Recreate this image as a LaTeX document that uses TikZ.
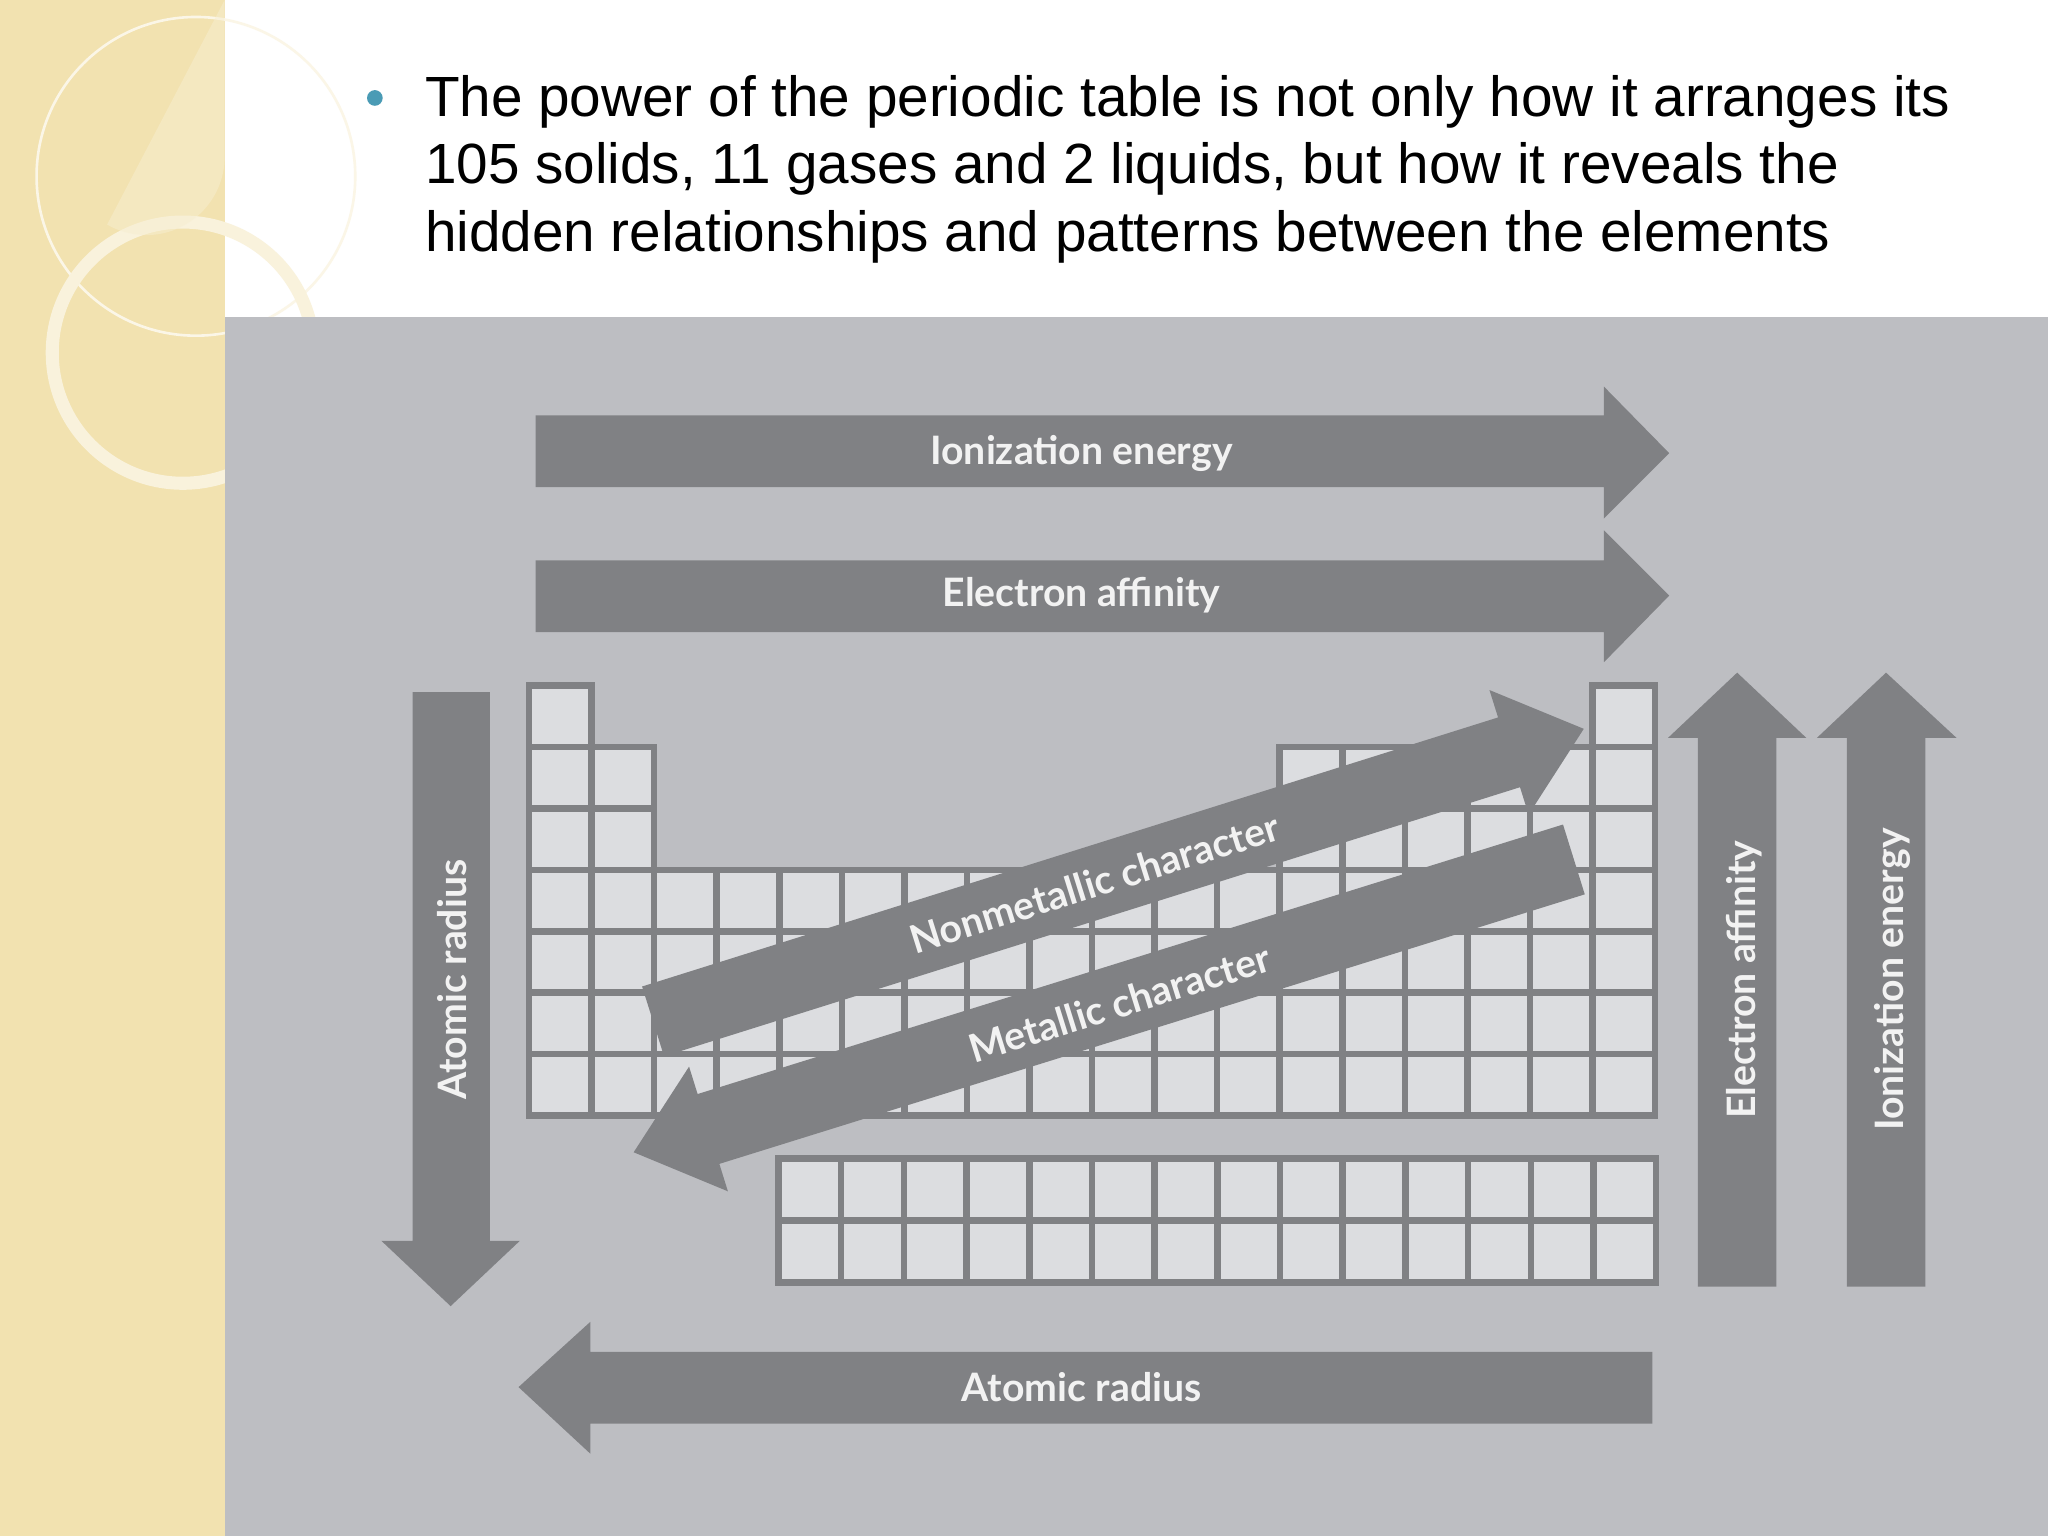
\documentclass[tikz,border=0pt]{standalone}
\usepackage{fontspec}
\setmainfont{Liberation Sans}
\newfontfamily\lab{Lato}
\definecolor{beige}{HTML}{F2E2B0}
\definecolor{bg}{HTML}{BDBEC2}
\definecolor{arr}{HTML}{808184}
\definecolor{cell}{HTML}{DCDDE0}
\definecolor{bul}{HTML}{4A9BB5}
\tikzset{x=0.5pt,y=-0.5pt,
 ar/.style={fill=arr,draw=none},
 al/.style={text=white!95!black,font=\lab\bfseries\fontsize{15}{17}\selectfont},
 cl/.style={fill=cell,draw=arr,line width=2.5pt}}
\newcommand\cellat[2]{\draw[cl] ({405+(#1-1)*47.9},{525+(#2-1)*47}) rectangle +(47.9,47);}
\begin{document}
\begin{tikzpicture}
\useasboundingbox (0,0) rectangle (1568,1176);
\fill[white] (0,0) rectangle (1568,1176);
\fill[beige] (0,0) rectangle (172,1176);
\draw[white!70!beige,line width=1pt] (150,135) circle (122);
\draw[white!55!beige,line width=5pt] (140,270) circle (100);
\fill[white!40!beige,opacity=.5] (172,0) -- (172,120) arc (0:120:60) -- cycle;
\fill[bg] (172,243) rectangle (1568,1176);
\fill[bul] (287,75) circle (6);
\node[anchor=north west,align=left,font=\fontsize{21.7}{26}\selectfont,inner sep=0] (t) at (325,57)
 {The power of the periodic table is not only how it arranges its\\105 solids, 11 gases and 2 liquids, but how it reveals the\\hidden relationships and patterns between the elements};
% table
\foreach \r in {1,...,7}{\cellat{1}{\r}}
\foreach \r in {2,...,7}{\cellat{2}{\r}}
\foreach \r in {1,...,7}{\cellat{18}{\r}}
\foreach \c in {13,...,17}{\foreach \r in {2,...,7}{\cellat{\c}{\r}}}
\foreach \c in {3,...,12}{\foreach \r in {4,...,7}{\cellat{\c}{\r}}}
\foreach \c in {0,...,13}{\foreach \r in {0,1}{\draw[cl] ({596+\c*48},{887+\r*47.5}) rectangle +(48,47.5);}}
% horizontal arrows
\fill[ar] (410,318) -- (1228,318) -- (1228,296) -- (1278,347) -- (1228,397) -- (1228,373) -- (410,373) -- cycle;
\node[al] (ie) at (828,347) {Ionization energy};
\fill[ar] (410,429) -- (1228,429) -- (1228,406) -- (1278,456) -- (1228,507) -- (1228,484) -- (410,484) -- cycle;
\node[al] (ea) at (828,456) {Electron affinity};
\fill[ar] (1265,1035) -- (452,1035) -- (452,1012) -- (397,1062) -- (452,1113) -- (452,1090) -- (1265,1090) -- cycle;
\node[al] (ar1) at (828,1062) {Atomic radius};
% vertical arrows
\fill[ar] (316,530) -- (375,530) -- (375,950) -- (398,950) -- (345,1000) -- (292,950) -- (316,950) -- cycle;
\node[al,rotate=90] (ar2) at (346,750) {Atomic radius};
\fill[ar] (1300,985) -- (1360,985) -- (1360,565) -- (1383,565) -- (1330,515) -- (1277,565) -- (1300,565) -- cycle;
\node[al,rotate=90] (ea2) at (1335,750) {Electron affinity};
\fill[ar] (1414,985) -- (1474,985) -- (1474,565) -- (1498,565) -- (1444,515) -- (1391,565) -- (1414,565) -- cycle;
\node[al,rotate=90] (ie2) at (1449,750) {Ionization energy};
% diagonal arrows
\begin{scope}[shift={(500,782)},rotate=17.45]
\fill[ar] (0,-28) -- (687,-28) -- (687,-50) -- (747,0) -- (687,50) -- (687,28) -- (0,28) -- cycle;
\end{scope}
\begin{scope}[shift={(1205,658)},rotate=17.3]
\fill[ar] (0,-28) -- (-694,-28) -- (-694,-50) -- (-754,0) -- (-694,50) -- (-694,28) -- (0,28) -- cycle;
\end{scope}
\node[al,rotate=17.45] (nm) at (838,676) {Nonmetallic character};
\node[al,rotate=17.3] (mc) at (857,768) {Metallic character};
\end{tikzpicture}
\end{document}
